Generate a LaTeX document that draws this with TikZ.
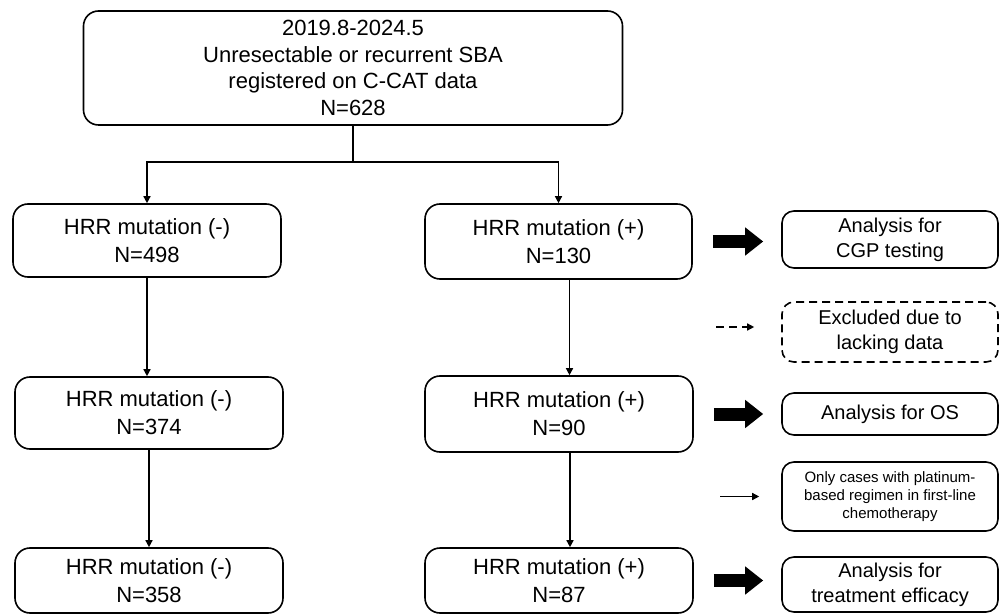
\documentclass[tikz,border=0pt]{standalone}
\usepackage{fontspec}
\setmainfont{Liberation Sans}
\usetikzlibrary{arrows.meta}

\begin{document}
\begin{tikzpicture}[x=0.5pt, y=-0.5pt,
    box/.style={draw, rounded corners=7.5pt, line width=0.8pt, align=center, inner sep=0pt, font=\fontsize{11}{14}\selectfont},
    sidebox/.style={draw, rounded corners=6pt, line width=0.8pt, align=center, inner sep=0pt, minimum width=108pt, font=\fontsize{10}{12.5}\selectfont},
    link/.style={line width=0.7pt, -{Triangle[width=3.5pt,length=3.5pt]}},
    fatarrow/.style={line width=6.5pt, -{Triangle[width=13.5pt,length=9pt]}}]
    \useasboundingbox (0,0) rectangle (1000,614);

    \node[box, minimum width=269.5pt, minimum height=57pt, font=\fontsize{11}{13.3}\selectfont] (top) at (353,68) {2019.8-2024.5\\Unresectable or recurrent SBA\\registered on C-CAT data\\N=628};

    \node[box, minimum width=134pt, minimum height=36.5pt] (neg1) at (147,240.5) {HRR mutation (-)\\N=498};
    \node[box, minimum width=134pt, minimum height=36pt] (neg2) at (149,413) {HRR mutation (-)\\N=374};
    \node[box, minimum width=134pt, minimum height=32.5pt] (neg3) at (149,580.5) {HRR mutation (-)\\N=358};

    \node[box, minimum width=133.5pt, minimum height=37.5pt] (pos1) at (558.5,241.5) {HRR mutation (+)\\N=130};
    \node[box, minimum width=134pt, minimum height=38pt] (pos2) at (559,414) {HRR mutation (+)\\N=90};
    \node[box, minimum width=134pt, minimum height=32.5pt] (pos3) at (559,580.5) {HRR mutation (+)\\N=87};

    \node[sidebox, minimum height=28.5pt] (cgp) at (890,239.5) {Analysis for\\CGP testing};
    \node[sidebox, minimum height=30pt, dash pattern=on 4pt off 2.5pt] (excl) at (890,332) {Excluded due to\\lacking data};
    \node[sidebox, minimum height=21pt] (os) at (890,414) {Analysis for OS};
    \node[sidebox, minimum height=34.5pt, font=\fontsize{7.5}{9}\selectfont] (plat) at (890,496.5) {Only cases with platinum-\\based regimen in first-line\\chemotherapy};
    \node[sidebox, minimum height=27.5pt] (eff) at (890,584.5) {Analysis for\\treatment efficacy};

    \coordinate (split) at (353,162);
    \draw[line width=0.7pt] (top.south) -- (split);
    \draw[link] (split) -| (neg1.north);
    \draw[link] (split) -| (pos1.north);

    \draw[link] (neg1.south) -- (neg1.south |- neg2.north);
    \draw[link] (neg2.south) -- (neg2.south |- neg3.north);
    \draw[link] ([xshift=5.5pt]pos1.south) -- ([xshift=5.5pt]pos1.south |- pos2.north);
    \draw[link] ([xshift=5.5pt]pos2.south) -- ([xshift=5.5pt]pos2.south |- pos3.north);

    \draw[fatarrow] ([xshift=10pt]pos1.east) -- ([xshift=-9pt]pos1.east -| cgp.west);
    \draw[fatarrow] ([xshift=10pt]pos2.east) -- ([xshift=-9pt]pos2.east -| os.west);
    \draw[fatarrow] ([xshift=10pt]pos3.east) -- ([xshift=-9pt]pos3.east -| eff.west);

    \draw[link, dash pattern=on 4pt off 2.5pt] ([xshift=-32.5pt, yshift=2.5pt]excl.west) -- ([xshift=-13.5pt, yshift=2.5pt]excl.west);
    \draw[link] ([xshift=-30.5pt]plat.west) -- ([xshift=-11pt]plat.west);
\end{tikzpicture}
\end{document}
